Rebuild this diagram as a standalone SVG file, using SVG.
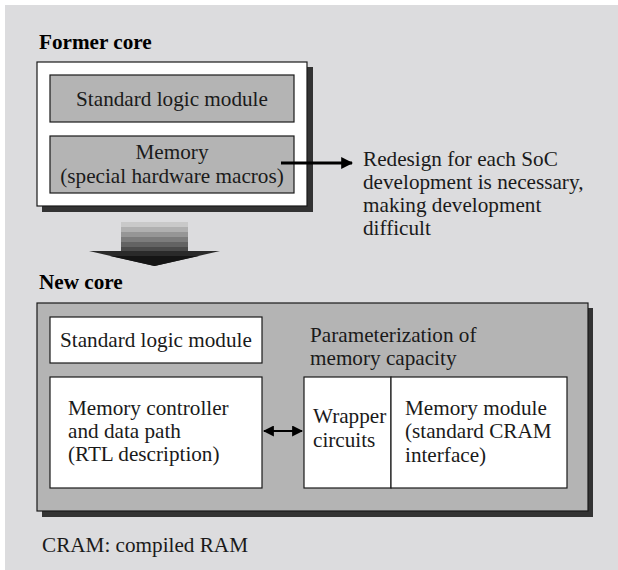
<svg xmlns="http://www.w3.org/2000/svg" width="618" height="570" viewBox="0 0 618 570">
  <style>
    text { font-family: "Liberation Serif", "Times New Roman", serif; font-size: 21.2px; fill: #1a1a1a; }
    .title { font-weight: bold; fill: #000; }
    .shadow { fill: #333; }
    .frame { stroke: #1a1a1a; stroke-width: 1.2; }
    .white { fill: #fff; }
    .gray { fill: #b4b4b4; }
    .conn { stroke: #000; fill: none; }
  </style>
  <defs>
    <marker id="head" viewBox="0 0 10 10" refX="9" refY="5" markerWidth="4" markerHeight="4" orient="auto-start-reverse" markerUnits="strokeWidth">
      <path d="M0,0 L10,5 L0,10 z" fill="#000"/>
    </marker>
    <marker id="headSmall" viewBox="0 0 10 10" refX="9" refY="5" markerWidth="5" markerHeight="5" orient="auto-start-reverse" markerUnits="strokeWidth">
      <path d="M0,0 L10,5 L0,10 z" fill="#000"/>
    </marker>
  </defs>

  <!-- page background -->
  <rect x="5" y="5" width="613" height="565" fill="#dcdcde"/>

  <!-- former core -->
  <g id="former-core">
    <text class="title" x="39" y="49">Former core</text>
    <rect class="shadow" x="42" y="67" width="271" height="145"/>
    <rect class="white frame" x="37" y="62" width="270" height="144"/>
  </g>
  <g id="former-logic">
    <rect class="gray frame" x="50" y="75" width="244" height="47"/>
    <text x="172" y="106" text-anchor="middle">Standard logic module</text>
  </g>
  <g id="former-memory">
    <rect class="gray frame" x="50" y="136" width="244" height="57"/>
    <text x="172" y="159" text-anchor="middle">Memory</text>
    <text x="172" y="183" text-anchor="middle">(special hardware macros)</text>
  </g>
  <g id="redesign-note">
    <text x="363" y="166">Redesign for each SoC</text>
    <text x="363" y="189">development is necessary,</text>
    <text x="363" y="212">making development</text>
    <text x="363" y="235">difficult</text>
  </g>

  <!-- transition arrow, shaded light to dark -->
  <g id="transition">
    <rect x="121" y="222" width="67" height="5" fill="#c9c9c9"/>
    <rect x="121" y="227" width="67" height="5" fill="#b0b0b0"/>
    <rect x="121" y="232" width="67" height="5" fill="#969696"/>
    <rect x="121" y="237" width="67" height="5" fill="#7c7c7c"/>
    <rect x="121" y="242" width="67" height="5" fill="#636363"/>
    <rect x="121" y="247" width="67" height="4" fill="#4a4a4a"/>
    <polygon points="89,251 220,251 154.5,266" fill="#2a2a2a"/>
    <polygon points="110,256 199,256 154.5,266" fill="#151515"/>
  </g>

  <!-- new core -->
  <g id="new-core">
    <text class="title" x="39" y="289">New core</text>
    <rect class="shadow" x="42" y="308" width="551" height="209"/>
    <rect class="gray frame" x="37" y="303" width="551" height="208"/>
  </g>
  <g id="new-logic">
    <rect class="white frame" x="50" y="317" width="212" height="46"/>
    <text x="60" y="347">Standard logic module</text>
  </g>
  <g id="memory-controller">
    <rect class="white frame" x="50" y="377" width="212" height="111"/>
    <text x="68" y="415">Memory controller</text>
    <text x="68" y="438">and data path</text>
    <text x="68" y="461">(RTL description)</text>
  </g>
  <g id="parameter-note">
    <text x="310" y="342">Parameterization of</text>
    <text x="310" y="365">memory capacity</text>
  </g>
  <g id="wrapper">
    <rect class="white frame" x="304" y="377" width="87" height="111"/>
    <text x="313" y="423">Wrapper</text>
    <text x="313" y="447">circuits</text>
  </g>
  <g id="memory-module">
    <rect class="white frame" x="391" y="377" width="176" height="111"/>
    <text x="405" y="415">Memory module</text>
    <text x="405" y="438">(standard CRAM</text>
    <text x="405" y="462">interface)</text>
  </g>

  <g id="connectors">
    <line class="conn" x1="281" y1="163" x2="352" y2="163" stroke-width="3" marker-end="url(#head)"/>
    <line class="conn" x1="264" y1="431" x2="302" y2="431" stroke-width="2.2" marker-start="url(#headSmall)" marker-end="url(#headSmall)"/>
  </g>

  <text id="footnote" x="42" y="552">CRAM: compiled RAM</text>
</svg>
